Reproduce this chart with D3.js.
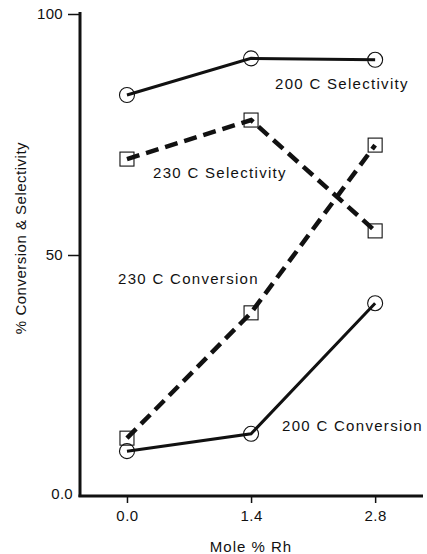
<!DOCTYPE html>
<html><head><meta charset="utf-8">
<script src="https://cdn.jsdelivr.net/npm/d3@7"></script>
<style>
body{margin:0;background:#fff;}
text{font-family:"Liberation Sans",Arial,sans-serif;fill:#111;}
</style></head>
<body><svg id="c" width="427" height="554"></svg>
<script>
const xValues = [0.0, 1.4, 2.8];
const xTickLabels = ["0.0", "1.4", "2.8"];
const yTickValues = [0, 50, 100];
const yTickLabels = ["0.0", "50", "100"];
const sel200 = [83.2, 90.8, 90.5];
const sel230 = [69.9, 78.0, 55.0];
const conv230 = [12.0, 38.0, 72.8];
const conv200 = [9.3, 12.9, 40.0];
const seriesNames = ["200  C Selectivity", "230  C Selectivity", "230  C Conversion", "200  C Conversion"];
const xLabel = "Mole % Rh";
const yLabel = "% Conversion & Selectivity";

const series = [
  {name: seriesNames[0], values: sel200, marker: "circle", dashed: false, lx: 1.67, ly: 84.4},
  {name: seriesNames[1], values: sel230, marker: "square", dashed: true, lx: 0.294, ly: 66.0},
  {name: seriesNames[2], values: conv230, marker: "square", dashed: true, lx: -0.101, ly: 44.0},
  {name: seriesNames[3], values: conv200, marker: "circle", dashed: false, lx: 1.749, ly: 13.5}
];

const svg = d3.select("#c");
const x = d3.scaleLinear().domain([-0.53, 3.34]).range([80, 423]);
const y = d3.scaleLinear().domain([0, 100]).range([496, 14]);

// axes
const yAxis = d3.axisLeft(y).tickValues([50, 100]).tickFormat((d) => yTickLabels[yTickValues.indexOf(d)]).tickSize(12).tickPadding(5);
const gy = svg.append("g").attr("transform", "translate(80,0)").call(yAxis);
gy.select(".domain").remove();
gy.selectAll(".tick line").attr("stroke", "#111").attr("stroke-width", 1.5);
gy.selectAll(".tick text").style("font-size", "15px").style("letter-spacing", "0.3px").attr("fill", "#111");
svg.append("text").attr("x", 73).attr("y", y(0) - 2).attr("dy", "0.35em").attr("text-anchor", "end").style("font-size", "15px").style("letter-spacing", "0.3px").text(yTickLabels[0]);

const xAxis = d3.axisBottom(x).tickValues(xValues).tickFormat((d, i) => xTickLabels[i]).tickSize(7).tickPadding(7);
const gx = svg.append("g").attr("transform", "translate(0,496)").call(xAxis);
gx.select(".domain").remove();
gx.selectAll(".tick line").attr("stroke", "#111").attr("stroke-width", 1.5);
gx.selectAll(".tick text").style("font-size", "15px").style("letter-spacing", "0.5px").attr("fill", "#111");

svg.append("line").attr("x1", 80).attr("x2", 80).attr("y1", 12).attr("y2", 497).attr("stroke", "#111").attr("stroke-width", 3);
svg.append("line").attr("x1", 78.5).attr("x2", 423).attr("y1", 496).attr("y2", 496).attr("stroke", "#111").attr("stroke-width", 3);

svg.append("text").attr("x", 251).attr("y", 552).attr("text-anchor", "middle").style("font-size", "15px").style("letter-spacing", "1px").text(xLabel);
svg.append("text").attr("transform", "translate(26,238) rotate(-90)").attr("text-anchor", "middle").style("font-size", "15px").style("letter-spacing", "0.5px").text(yLabel);

const line = d3.line().x((d, i) => x(xValues[i])).y((d) => y(d));

series.forEach((s) => {
  svg.append("path").datum(s.values).attr("d", line).attr("fill", "none").attr("stroke", "#111")
    .attr("stroke-width", s.dashed ? 4.5 : 3).attr("stroke-dasharray", s.dashed ? "13,7" : null);
});
series.forEach((s) => {
  const g = svg.append("g");
  s.values.forEach((v, i) => {
    if (s.marker === "circle") {
      g.append("circle").attr("cx", x(xValues[i])).attr("cy", y(v)).attr("r", 7.5).attr("fill", "none").attr("stroke", "#111").attr("stroke-width", 1.1);
    } else {
      g.append("rect").attr("x", x(xValues[i]) - 7).attr("y", y(v) - 7).attr("width", 14).attr("height", 14).attr("fill", "none").attr("stroke", "#111").attr("stroke-width", 1.1);
    }
  });
  svg.append("text").attr("x", x(s.lx)).attr("y", y(s.ly)).style("font-size", "15px").style("letter-spacing", "1.3px").text(s.name);
});
</script></body></html>
